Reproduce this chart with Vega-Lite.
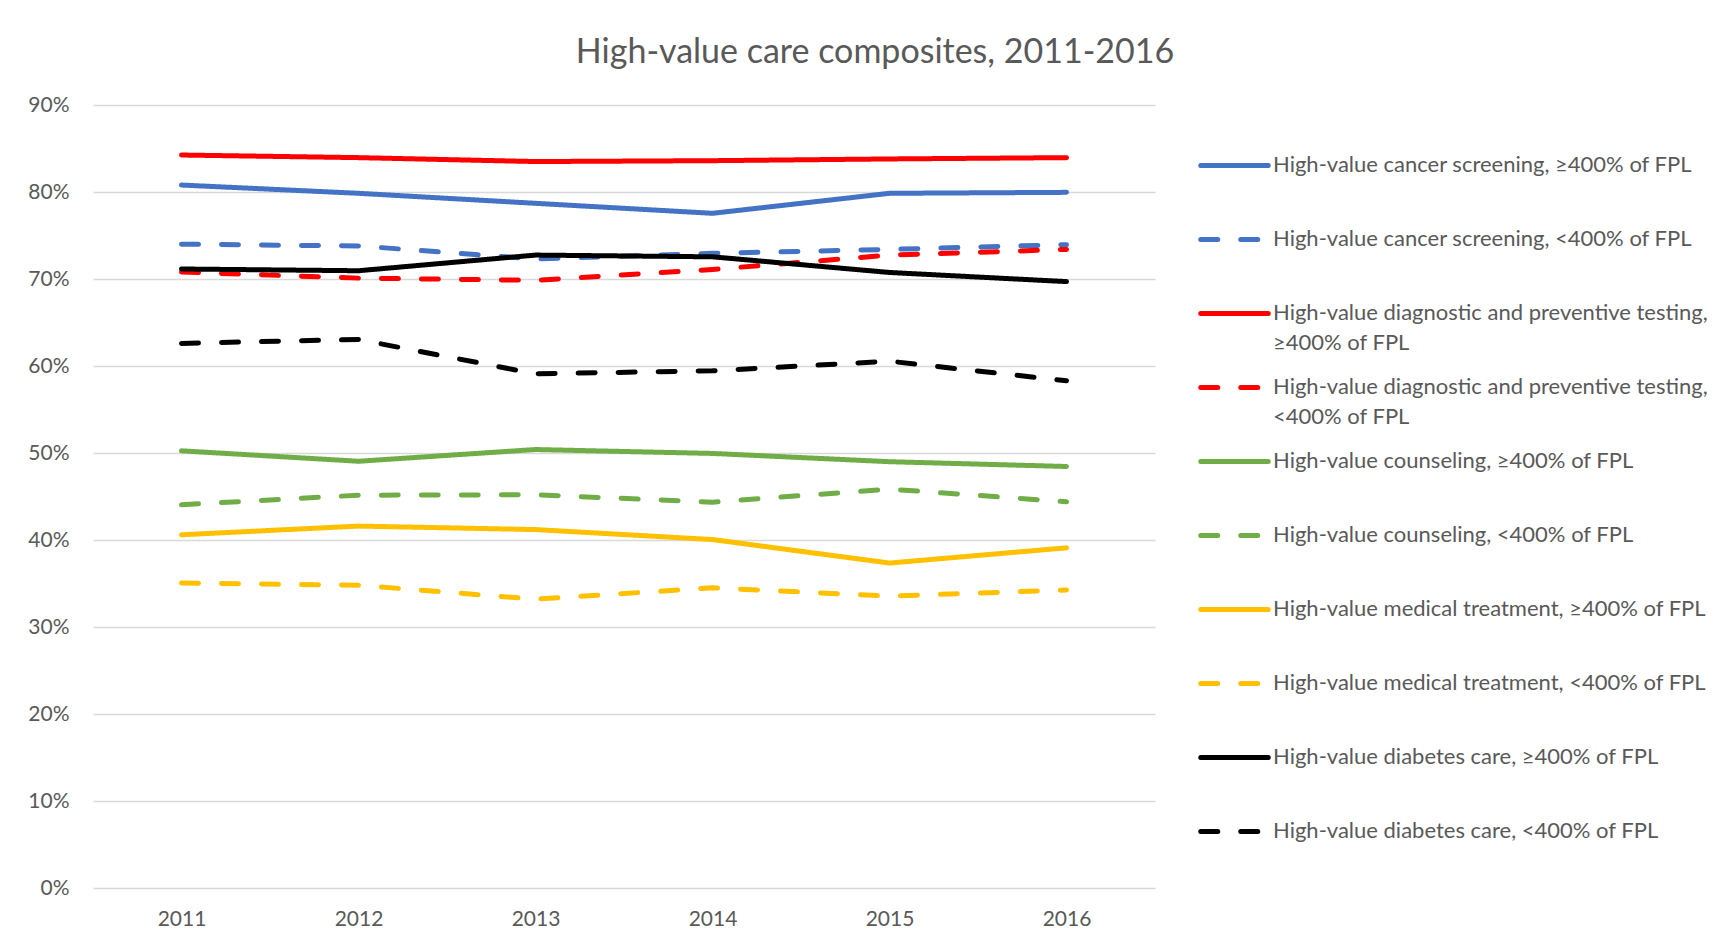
{
  "$schema": "https://vega.github.io/schema/vega-lite/v6.json",
  "autosize": {"type": "none"},
  "width": 1062,
  "height": 783,
  "padding": {"left": 93, "top": 105, "right": 581, "bottom": 56},
  "background": "white",
  "title": {"text": "High-value care composites, 2011-2016", "font": "Lato", "fontSize": 34, "fontWeight": "normal", "color": "#595959", "anchor": "middle", "frame": "group", "dx": 251, "offset": 24},
  "data": {"values": [
    {"year": "2011", "series": "High-value cancer screening, ≥400% of FPL", "value": 0.808},
    {"year": "2012", "series": "High-value cancer screening, ≥400% of FPL", "value": 0.7985},
    {"year": "2013", "series": "High-value cancer screening, ≥400% of FPL", "value": 0.787},
    {"year": "2014", "series": "High-value cancer screening, ≥400% of FPL", "value": 0.7755},
    {"year": "2015", "series": "High-value cancer screening, ≥400% of FPL", "value": 0.7985},
    {"year": "2016", "series": "High-value cancer screening, ≥400% of FPL", "value": 0.7996},
    {"year": "2011", "series": "High-value cancer screening, <400% of FPL", "value": 0.740},
    {"year": "2012", "series": "High-value cancer screening, <400% of FPL", "value": 0.738},
    {"year": "2013", "series": "High-value cancer screening, <400% of FPL", "value": 0.723},
    {"year": "2014", "series": "High-value cancer screening, <400% of FPL", "value": 0.7295},
    {"year": "2015", "series": "High-value cancer screening, <400% of FPL", "value": 0.734},
    {"year": "2016", "series": "High-value cancer screening, <400% of FPL", "value": 0.7395},
    {"year": "2011", "series": "High-value diagnostic and preventive testing, ≥400% of FPL", "value": 0.8425},
    {"year": "2012", "series": "High-value diagnostic and preventive testing, ≥400% of FPL", "value": 0.8395},
    {"year": "2013", "series": "High-value diagnostic and preventive testing, ≥400% of FPL", "value": 0.835},
    {"year": "2014", "series": "High-value diagnostic and preventive testing, ≥400% of FPL", "value": 0.836},
    {"year": "2015", "series": "High-value diagnostic and preventive testing, ≥400% of FPL", "value": 0.838},
    {"year": "2016", "series": "High-value diagnostic and preventive testing, ≥400% of FPL", "value": 0.8395},
    {"year": "2011", "series": "High-value diagnostic and preventive testing, <400% of FPL", "value": 0.708},
    {"year": "2012", "series": "High-value diagnostic and preventive testing, <400% of FPL", "value": 0.701},
    {"year": "2013", "series": "High-value diagnostic and preventive testing, <400% of FPL", "value": 0.6985},
    {"year": "2014", "series": "High-value diagnostic and preventive testing, <400% of FPL", "value": 0.711},
    {"year": "2015", "series": "High-value diagnostic and preventive testing, <400% of FPL", "value": 0.7275},
    {"year": "2016", "series": "High-value diagnostic and preventive testing, <400% of FPL", "value": 0.734},
    {"year": "2011", "series": "High-value counseling, ≥400% of FPL", "value": 0.5025},
    {"year": "2012", "series": "High-value counseling, ≥400% of FPL", "value": 0.4905},
    {"year": "2013", "series": "High-value counseling, ≥400% of FPL", "value": 0.504},
    {"year": "2014", "series": "High-value counseling, ≥400% of FPL", "value": 0.4995},
    {"year": "2015", "series": "High-value counseling, ≥400% of FPL", "value": 0.490},
    {"year": "2016", "series": "High-value counseling, ≥400% of FPL", "value": 0.4845},
    {"year": "2011", "series": "High-value counseling, <400% of FPL", "value": 0.4405},
    {"year": "2012", "series": "High-value counseling, <400% of FPL", "value": 0.4515},
    {"year": "2013", "series": "High-value counseling, <400% of FPL", "value": 0.452},
    {"year": "2014", "series": "High-value counseling, <400% of FPL", "value": 0.4435},
    {"year": "2015", "series": "High-value counseling, <400% of FPL", "value": 0.4585},
    {"year": "2016", "series": "High-value counseling, <400% of FPL", "value": 0.444},
    {"year": "2011", "series": "High-value medical treatment, ≥400% of FPL", "value": 0.406},
    {"year": "2012", "series": "High-value medical treatment, ≥400% of FPL", "value": 0.416},
    {"year": "2013", "series": "High-value medical treatment, ≥400% of FPL", "value": 0.412},
    {"year": "2014", "series": "High-value medical treatment, ≥400% of FPL", "value": 0.4005},
    {"year": "2015", "series": "High-value medical treatment, ≥400% of FPL", "value": 0.3735},
    {"year": "2016", "series": "High-value medical treatment, ≥400% of FPL", "value": 0.391},
    {"year": "2011", "series": "High-value medical treatment, <400% of FPL", "value": 0.3505},
    {"year": "2012", "series": "High-value medical treatment, <400% of FPL", "value": 0.348},
    {"year": "2013", "series": "High-value medical treatment, <400% of FPL", "value": 0.332},
    {"year": "2014", "series": "High-value medical treatment, <400% of FPL", "value": 0.345},
    {"year": "2015", "series": "High-value medical treatment, <400% of FPL", "value": 0.3355},
    {"year": "2016", "series": "High-value medical treatment, <400% of FPL", "value": 0.3425},
    {"year": "2011", "series": "High-value diabetes care, ≥400% of FPL", "value": 0.7115},
    {"year": "2012", "series": "High-value diabetes care, ≥400% of FPL", "value": 0.7095},
    {"year": "2013", "series": "High-value diabetes care, ≥400% of FPL", "value": 0.7275},
    {"year": "2014", "series": "High-value diabetes care, ≥400% of FPL", "value": 0.7255},
    {"year": "2015", "series": "High-value diabetes care, ≥400% of FPL", "value": 0.7075},
    {"year": "2016", "series": "High-value diabetes care, ≥400% of FPL", "value": 0.697},
    {"year": "2011", "series": "High-value diabetes care, <400% of FPL", "value": 0.626},
    {"year": "2012", "series": "High-value diabetes care, <400% of FPL", "value": 0.6305},
    {"year": "2013", "series": "High-value diabetes care, <400% of FPL", "value": 0.591},
    {"year": "2014", "series": "High-value diabetes care, <400% of FPL", "value": 0.5945},
    {"year": "2015", "series": "High-value diabetes care, <400% of FPL", "value": 0.6055},
    {"year": "2016", "series": "High-value diabetes care, <400% of FPL", "value": 0.583}
  ]},
  "mark": {"type": "line", "strokeWidth": 5, "strokeCap": "round", "strokeJoin": "round"},
  "encoding": {
    "x": {"field": "year", "type": "ordinal", "scale": {"type": "point", "padding": 0.5},
      "axis": {"title": null, "labelAngle": 0, "ticks": false, "domain": false, "grid": false, "labelPadding": 20}},
    "y": {"field": "value", "type": "quantitative", "scale": {"domain": [0, 0.9], "nice": false},
      "axis": {"title": null, "values": [0, 0.1, 0.2, 0.3, 0.4, 0.5, 0.6, 0.7, 0.8, 0.9], "format": ".0%", "ticks": false, "domain": false, "labelPadding": 24, "grid": true, "gridColor": "#D9D9D9", "gridWidth": 1.3}},
    "color": {"field": "series", "type": "nominal",
      "scale": {"domain": [
        "High-value cancer screening, ≥400% of FPL",
        "High-value cancer screening, <400% of FPL",
        "High-value diagnostic and preventive testing, ≥400% of FPL",
        "High-value diagnostic and preventive testing, <400% of FPL",
        "High-value counseling, ≥400% of FPL",
        "High-value counseling, <400% of FPL",
        "High-value medical treatment, ≥400% of FPL",
        "High-value medical treatment, <400% of FPL",
        "High-value diabetes care, ≥400% of FPL",
        "High-value diabetes care, <400% of FPL"],
        "range": ["#4472C4", "#4472C4", "#FF0000", "#FF0000", "#70AD47", "#70AD47", "#FFC000", "#FFC000", "#000000", "#000000"]},
      "legend": {"title": null, "orient": "none", "legendX": 1122, "legendY": 41,
        "labelExpr": "length(datum.label) > 50 ? [slice(datum.label, 0, indexof(datum.label, ',') + 1), slice(datum.label, indexof(datum.label, ',') + 2)] : datum.label",
        "encode": {"labels": {"update": {"dy": {"value": -11}, "lineHeight": {"value": 30}}}, "symbols": {"update": {"strokeCap": {"value": "round"}}}}}},
    "strokeDash": {"field": "series", "type": "nominal",
      "scale": {"domain": [
        "High-value cancer screening, ≥400% of FPL",
        "High-value cancer screening, <400% of FPL",
        "High-value diagnostic and preventive testing, ≥400% of FPL",
        "High-value diagnostic and preventive testing, <400% of FPL",
        "High-value counseling, ≥400% of FPL",
        "High-value counseling, <400% of FPL",
        "High-value medical treatment, ≥400% of FPL",
        "High-value medical treatment, <400% of FPL",
        "High-value diabetes care, ≥400% of FPL",
        "High-value diabetes care, <400% of FPL"],
        "range": [[1, 0], [17, 23], [1, 0], [17, 23], [1, 0], [17, 23], [1, 0], [17, 23], [1, 0], [17, 23]]},
      "legend": {"title": null, "orient": "none", "legendX": 1122, "legendY": 41,
        "labelExpr": "length(datum.label) > 50 ? [slice(datum.label, 0, indexof(datum.label, ',') + 1), slice(datum.label, indexof(datum.label, ',') + 2)] : datum.label",
        "encode": {"labels": {"update": {"dy": {"value": -11}, "lineHeight": {"value": 30}}}, "symbols": {"update": {"strokeCap": {"value": "round"}}}}}}
  },
  "config": {
    "view": {"stroke": null},
    "font": "Lato",
    "axis": {"labelFont": "Lato", "labelFontSize": 21, "labelColor": "#595959"},
    "legend": {"symbolType": "M-2,0H2", "symbolSize": 1139, "symbolStrokeWidth": 5, "labelFont": "Lato", "labelFontSize": 22, "labelColor": "#595959", "labelLimit": 600, "labelOffset": 19, "labelBaseline": "top", "rowPadding": 14, "gridAlign": "all", "padding": 0, "columns": 1}
  }
}
